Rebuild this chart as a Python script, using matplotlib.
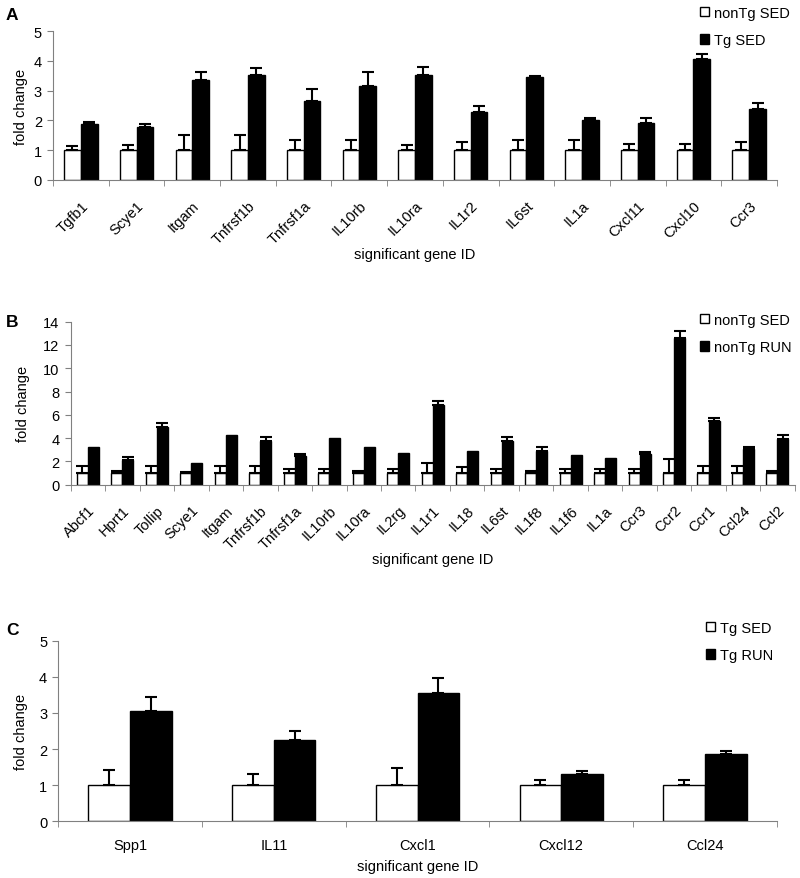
import numpy as np
import matplotlib
matplotlib.use("Agg")
import matplotlib.pyplot as plt

plt.rcParams['font.family'] = ['Liberation Sans', 'DejaVu Sans']
plt.rcParams['font.size'] = 10.5

# panel A
genes_a = ["Tgfb1", "Scye1", "Itgam", "Tnfrsf1b", "Tnfrsf1a", "IL10rb", "IL10ra",
           "IL1r2", "IL6st", "IL1a", "Cxcl11", "Cxcl10", "Ccr3"]
nontg_sed_a = [1.0] * 13
nontg_sed_a_err = [0.15, 0.18, 0.52, 0.52, 0.33, 0.33, 0.19, 0.29, 0.33, 0.33, 0.22, 0.22, 0.29]
tg_sed_a = [1.88, 1.77, 3.36, 3.51, 2.66, 3.17, 3.51, 2.28, 3.46, 2.00, 1.91, 4.06, 2.37]
tg_sed_a_err = [0.08, 0.12, 0.27, 0.26, 0.41, 0.47, 0.27, 0.22, 0.03, 0.09, 0.18, 0.17, 0.23]

# panel B
genes_b = ["Abcf1", "Hprt1", "Tollip", "Scye1", "Itgam", "Tnfrsf1b", "Tnfrsf1a", "IL10rb",
           "IL10ra", "IL2rg", "IL1r1", "IL18", "IL6st", "IL1f8", "IL1f6", "IL1a", "Ccr3",
           "Ccr2", "Ccr1", "Ccl24", "Ccl2"]
nontg_sed_b = [1.0] * 21
nontg_sed_b_err = [0.57, 0.20, 0.57, 0.05, 0.57, 0.57, 0.32, 0.32, 0.20, 0.32, 0.86,
                   0.49, 0.35, 0.20, 0.35, 0.35, 0.35, 1.18, 0.57, 0.57, 0.20]
nontg_run_b = [3.26, 2.12, 4.98, 1.83, 4.27, 3.78, 2.49, 4.00, 3.26, 2.70, 6.87,
               2.92, 3.78, 2.92, 2.58, 2.32, 2.60, 12.62, 5.44, 3.03, 3.89]
nontg_run_b_err = [0, 0.23, 0.32, 0, 0, 0.34, 0.17, 0, 0, 0, 0.34,
                   0, 0.34, 0.34, 0, 0, 0.18, 0.58, 0.26, 0.23, 0.35]

# panel C
genes_c = ["Spp1", "IL11", "Cxcl1", "Cxcl12", "Ccl24"]
tg_sed_c = [1.0] * 5
tg_sed_c_err = [0.42, 0.31, 0.47, 0.15, 0.15]
tg_run_c = [3.05, 2.24, 3.56, 1.32, 1.86]
tg_run_c_err = [0.38, 0.26, 0.41, 0.06, 0.10]


def draw_panel(ax, genes, v1, e1, v2, e2, labels, ymax, ystep, width, rotate, leg_pos):
    x = np.arange(len(genes))
    ax.bar(x - width / 2, v1, width, color='white', edgecolor='black', linewidth=1, label=labels[0], zorder=2)
    ax.bar(x + width / 2, v2, width, color='black', edgecolor='black', linewidth=1, label=labels[1], zorder=2)
    # only upper error bars, skip the ones that are not visible
    for off, vals, errs in [(-width / 2, v1, e1), (width / 2, v2, e2)]:
        vals, errs = np.array(vals), np.array(errs)
        m = errs > 0
        ax.errorbar(x[m] + off, vals[m], yerr=[np.zeros(m.sum()), errs[m]], fmt='none',
                    ecolor='black', elinewidth=1.5, capsize=4.3, capthick=1.5, zorder=3)
    ax.set_xlim(-0.5, len(genes) - 0.5)
    ax.set_ylim(0, ymax)
    ax.set_yticks(np.arange(0, ymax + 0.1, ystep))
    ax.set_xticks(x)
    if rotate:
        ax.set_xticklabels(genes, rotation=45, ha='right', rotation_mode='anchor')
        ax.tick_params(axis='x', which='major', length=0, pad=13)
        ax.set_xlabel('significant gene ID', fontsize=10.5, labelpad=1)
    else:
        ax.set_xticklabels(genes)
        ax.tick_params(axis='x', which='major', length=0, pad=12)
        ax.set_xlabel('significant gene ID', fontsize=10.5, labelpad=5)
    ax.set_xticks(np.arange(len(genes) + 1) - 0.5, minor=True)
    ax.tick_params(axis='x', which='minor', length=4, color='#808080', direction='out')
    ax.tick_params(axis='y', length=4, color='#808080', pad=4)
    for s in ['top', 'right']:
        ax.spines[s].set_visible(False)
    for s in ['left', 'bottom']:
        ax.spines[s].set_color('#808080')
    ax.set_ylabel('fold change', fontsize=10.5)
    ax.legend(loc='upper left', bbox_to_anchor=leg_pos, bbox_transform=fig.transFigure,
              frameon=False, handlelength=0.6, handleheight=0.6, handletextpad=0.35,
              labelspacing=0.9, borderpad=0, borderaxespad=0, fontsize=10.5)


fig = plt.figure(figsize=(8, 8.79), dpi=100)

ax_a = fig.add_axes([53 / 800, 1 - 181 / 879, 724 / 800, 149 / 879])
ax_b = fig.add_axes([70.7 / 800, 1 - 485.7 / 879, 724 / 800, 163 / 879])
ax_c = fig.add_axes([58.3 / 800, 1 - 822.3 / 879, 718.4 / 800, 180.6 / 879])

draw_panel(ax_a, genes_a, nontg_sed_a, nontg_sed_a_err, tg_sed_a, tg_sed_a_err,
           ["nonTg SED", "Tg SED"], 5, 1, 0.30, True, (700 / 800, 1 - 7 / 879))
draw_panel(ax_b, genes_b, nontg_sed_b, nontg_sed_b_err, nontg_run_b, nontg_run_b_err,
           ["nonTg SED", "nonTg RUN"], 14, 2, 0.32, True, (700 / 800, 1 - 314 / 879))
draw_panel(ax_c, genes_c, tg_sed_c, tg_sed_c_err, tg_run_c, tg_run_c_err,
           ["Tg SED", "Tg RUN"], 5, 1, 0.29, False, (706 / 800, 1 - 622 / 879))

ax_a.yaxis.set_label_coords((28 - 53) / 724, 0.5)
ax_b.yaxis.set_label_coords((30 - 70.7) / 724, 0.5)
ax_c.yaxis.set_label_coords((28 - 58.3) / 718.4, 0.5)

for letter, ytop in [('A', 8), ('B', 315), ('C', 623)]:
    fig.text(6 / 800, 1 - ytop / 879, letter, fontsize=12.5, fontweight='bold', va='top', ha='left')

fig.savefig('out.png', dpi=100)
